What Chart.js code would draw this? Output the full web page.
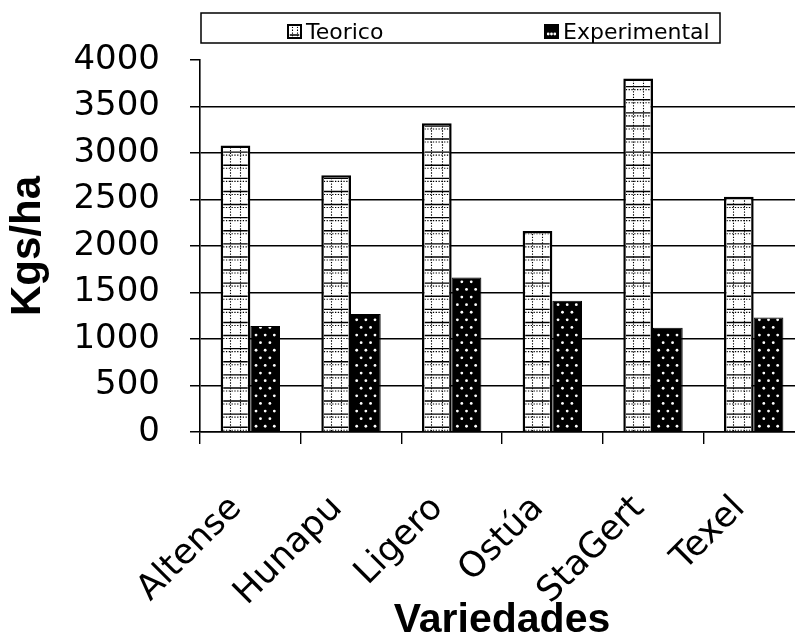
<!DOCTYPE html>
<html>
<head>
<meta charset="utf-8">
<script src="https://cdn.jsdelivr.net/npm/chart.js@4/dist/chart.umd.min.js"></script>
<style>
  html, body { margin: 0; padding: 0; background: #fff; overflow: hidden; }
  #wrap { width: 795px; height: 640px; overflow: hidden; position: relative; }
  canvas { display: block; }
</style>
</head>
<body>
<div id="wrap"><canvas id="chart" width="804" height="640" style="width:804px;height:640px"></canvas></div>
<script>
// Rendimiento por variedad (Kgs/ha)
const variedades = ['Altense', 'Hunapu', 'Ligero', 'Ostúa', 'StaGert', 'Texel'];
const teorico = [3080, 2760, 3320, 2160, 3800, 2530];
const experimental = [1140, 1270, 1660, 1410, 1120, 1230];
const serieNombres = ['Teorico', 'Experimental'];
const yAxisTicks = [0, 500, 1000, 1500, 2000, 2500, 3000, 3500, 4000];

const TICK_FONT = "'DejaVu Sans', sans-serif";
const TITLE_FONT = "'Liberation Sans', Arial, sans-serif";

// Legend frame and item positions
const legendFrame = { left: 201, top: 13, right: 720, bottom: 43 };
const legendItemX = [288, 545];

// Squared fill: solid row lines with dotted companions and two dotted columns
function gridFill(ctx, l, t, r, b, base) {
  ctx.save();
  ctx.beginPath();
  ctx.rect(l, t, r - l, b - t);
  ctx.clip();
  const step = 13.1;
  ctx.strokeStyle = '#000';
  ctx.lineWidth = 1.4;
  for (let y = base - 4; y > t - step; y -= step) {
    ctx.beginPath(); ctx.moveTo(l, y); ctx.lineTo(r, y); ctx.stroke();
  }
  ctx.setLineDash([1.3, 1.5]);
  ctx.lineWidth = 1.1;
  for (let y = base - 4 + 3; y > t - step; y -= step) {
    ctx.beginPath(); ctx.moveTo(l, y); ctx.lineTo(r, y); ctx.stroke();
  }
  const w = r - l;
  [0.28, 0.7].forEach(f => {
    const x = Math.round(l + w * f) + 0.5;
    ctx.beginPath(); ctx.moveTo(x, b); ctx.lineTo(x, t); ctx.stroke();
  });
  ctx.restore();
}

// Dark fill with staggered light dots
function dotFill(ctx, l, t, r, b, base) {
  ctx.save();
  ctx.beginPath();
  ctx.rect(l, t, r - l, b - t);
  ctx.clip();
  ctx.fillStyle = '#fff';
  const dy = 7.6;
  const even = [0.17, 0.5, 0.83];
  const odd = [0.33, 0.67];
  let row = 0;
  for (let y = base - 5; y > t; y -= dy, row++) {
    (row % 2 ? odd : even).forEach(f => {
      ctx.beginPath();
      ctx.arc(l + (r - l) * f, y, 1.4, 0, Math.PI * 2);
      ctx.fill();
    });
  }
  ctx.restore();
}

const fills = [gridFill, dotFill];

const barTexture = {
  id: 'barTexture',
  afterDatasetsDraw(chart) {
    const ctx = chart.ctx;
    chart.data.datasets.forEach((ds, i) => {
      const meta = chart.getDatasetMeta(i);
      meta.data.forEach(el => {
        const p = el.getProps(['x', 'y', 'base', 'width'], true);
        const bw = ds.borderWidth;
        const l = p.x - p.width / 2 + bw, r = p.x + p.width / 2 - bw;
        const t = Math.min(p.y, p.base) + bw, b = Math.max(p.y, p.base);
        fills[i](ctx, l, t, r, b, p.base);
      });
    });
  }
};

const framedLegend = {
  id: 'framedLegend',
  afterDraw(chart) {
    const ctx = chart.ctx;
    ctx.save();
    ctx.strokeStyle = '#000';
    ctx.lineWidth = 1.5;
    ctx.strokeRect(legendFrame.left, legendFrame.top,
      legendFrame.right - legendFrame.left, legendFrame.bottom - legendFrame.top);
    chart.data.datasets.forEach((ds, i) => {
      const x = legendItemX[i], y = 25, s = 13;
      ctx.fillStyle = ds.backgroundColor;
      ctx.fillRect(x, y, s, s);
      fills[i](ctx, x + 1.5, y + 1.5, x + s - 1.5, y + s - 1.5, y + s + 1);
      ctx.lineWidth = 2;
      ctx.strokeStyle = '#000';
      ctx.strokeRect(x, y, s, s);
      ctx.fillStyle = '#000';
      ctx.font = '22px ' + TICK_FONT;
      ctx.textAlign = 'left';
      ctx.textBaseline = 'alphabetic';
      ctx.fillText(ds.label, x + s + 5, 38.5);
    });
    ctx.restore();
  }
};

new Chart(document.getElementById('chart'), {
  type: 'bar',
  data: {
    labels: variedades,
    datasets: [
      { label: serieNombres[0], data: teorico, backgroundColor: '#fff', borderColor: '#000', borderWidth: 2.5 },
      { label: serieNombres[1], data: experimental, backgroundColor: '#000', borderColor: '#000', borderWidth: 1 }
    ]
  },
  options: {
    responsive: false,
    devicePixelRatio: 1,
    animation: false,
    categoryPercentage: 0.59,
    barPercentage: 1,
    layout: { padding: { top: 60, left: 0, right: 0, bottom: 0 } },
    plugins: { legend: { display: false }, tooltip: { enabled: false } },
    scales: {
      x: {
        ticks: {
          color: '#000', font: { family: TICK_FONT, size: 35 },
          minRotation: 45, maxRotation: 45, autoSkip: false,
          padding: 44, labelOffset: -14
        },
        grid: { drawOnChartArea: false, tickLength: 12, color: '#000', lineWidth: 1.4, offset: true },
        border: { color: '#000', width: 1.6 },
        title: {
          display: true, text: 'Variedades', color: '#000',
          font: { family: TITLE_FONT, size: 41, weight: 'bold', lineHeight: 0.95 },
          padding: { top: 0, bottom: 0 }
        },
        afterFit(s) { s.height = 208; s.paddingLeft = 0; s.paddingRight = 0; }
      },
      y: {
        min: 0, max: 4000,
        afterBuildTicks(s) { s.ticks = yAxisTicks.map(v => ({ value: v })); },
        ticks: {
          color: '#000', font: { family: TICK_FONT, size: 34 }, padding: 30,
          callback: v => String(v)
        },
        grid: {
          color: c => (c.tick && c.tick.value === 4000 ? 'rgba(0,0,0,0)' : '#000'),
          tickColor: '#000', lineWidth: 1.5, tickLength: 10
        },
        border: { color: '#000', width: 1.6 },
        title: {
          display: true, text: 'Kgs/ha', color: '#000',
          font: { family: TITLE_FONT, size: 42, weight: 'bold' },
          padding: { top: 3, bottom: 0 }
        },
        afterFit(s) { s.width = 200; }
      }
    }
  },
  plugins: [barTexture, framedLegend]
});
</script>
</body>
</html>
